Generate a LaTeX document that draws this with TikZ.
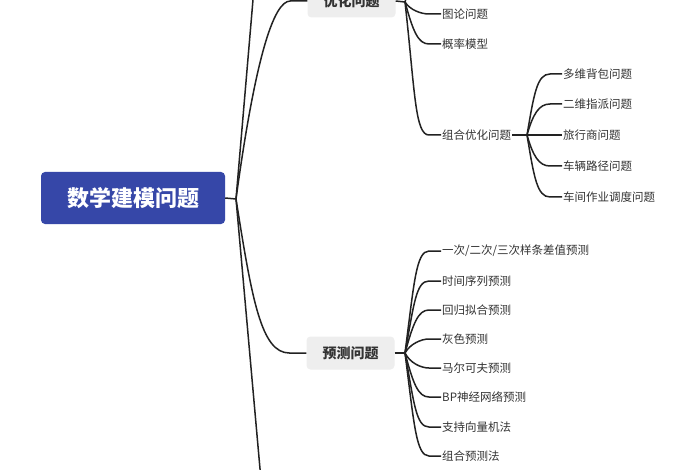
\documentclass[tikz,border=0pt]{standalone}
\usepackage{fontspec}
\setmainfont{Noto Sans CJK SC}
\definecolor{rootblue}{HTML}{3647A8}
\definecolor{boxgray}{HTML}{EEEEEE}
\definecolor{textdark}{HTML}{333333}
\definecolor{linedark}{HTML}{222222}
\begin{document}
\begin{tikzpicture}[x=1pt,y=-1pt,
  conn/.style={draw=linedark, line width=1.5pt},
  rootbox/.style={fill=rootblue, rounded corners=4pt, minimum width=184pt, minimum height=52pt, text=white, font=\fontsize{22}{22}\selectfont\bfseries},
  branchbox/.style={fill=boxgray, rounded corners=4pt, minimum width=88pt, minimum height=33pt, text=textdark, font=\fontsize{14}{14}\selectfont\bfseries},
  leaf/.style={anchor=west, inner sep=1pt, text=textdark, font=\fontsize{11.5}{11.5}\selectfont}]
\useasboundingbox (0,0) rectangle (700,470);
\fill[white] (0,0) rectangle (700,470);
\clip (0,0) rectangle (700,470);

% root and main branches
\node[rootbox] (root) at (133,198) {数学建模问题};
\node[branchbox] (opt) at (351.5,1) {优化问题};
\node[branchbox] (pred) at (350.5,353) {预测问题};
\coordinate (r0) at (236,199);
\coordinate (offtop) at (254,-12);
\coordinate (offbot) at (261,480);

\draw[conn] (root.east) -- (r0);
\draw[conn] (r0) -- (offtop);
\draw[conn] (r0) -- (offbot);
\draw[conn] (r0) .. controls +(19,-139) and +(-17,0) .. ([xshift=-17pt]opt.west) -- (opt.west);
\draw[conn] (r0) .. controls +(16,101) and +(-28,0) .. ([xshift=-17pt]pred.west) -- (pred.west);

% optimisation branch
\coordinate (o0) at (405,2);
\coordinate (ohid) at (440,-30);
\node[leaf] (o1) at (441,14) {图论问题};
\node[leaf] (o2) at (441,44) {概率模型};
\node[leaf] (o3) at (441,135) {组合优化问题};
\draw[conn] (opt.east) -- (o0);
\draw[conn] (o0) .. controls +(6,-22) and +(-10,0) .. ([xshift=-12pt]ohid) -- (ohid);
\draw[conn] (o0) .. controls +(5,8) and +(-8,0) .. ([xshift=-12pt]o1.west) -- (o1.west);
\draw[conn] (o0) .. controls +(8,29) and +(-11,0) .. ([xshift=-12pt]o2.west) -- (o2.west);
\draw[conn] (o0) .. controls +(10,90) and +(-14,0) .. ([xshift=-12pt]o3.west) -- (o3.west);

% combinatorial optimisation
\coordinate (c0) at (527,135);
\node[leaf] (c1) at (562,74) {多维背包问题};
\node[leaf] (c2) at (562,104) {二维指派问题};
\node[leaf] (c3) at (562,135) {旅行商问题};
\node[leaf] (c4) at (562,166) {车辆路径问题};
\node[leaf] (c5) at (562,197) {车间作业调度问题};
\draw[conn] (o3.east) -- (c0);
\draw[conn] (c0) .. controls +(7,-41) and +(-13,0) .. ([xshift=-12pt]c1.west) -- (c1.west);
\draw[conn] (c0) .. controls +(6,-21) and +(-11,0) .. ([xshift=-12pt]c2.west) -- (c2.west);
\draw[conn] (c0) -- (c3.west);
\draw[conn] (c0) .. controls +(6,21) and +(-11,0) .. ([xshift=-12pt]c4.west) -- (c4.west);
\draw[conn] (c0) .. controls +(7,42) and +(-13,0) .. ([xshift=-12pt]c5.west) -- (c5.west);

% prediction branch
\coordinate (p0) at (405,353);
\node[leaf] (p1) at (441,251) {一次/二次/三次样条差值预测};
\node[leaf] (p2) at (441,281) {时间序列预测};
\node[leaf] (p3) at (441,310) {回归拟合预测};
\node[leaf] (p4) at (441,339) {灰色预测};
\node[leaf] (p5) at (441,368) {马尔可夫预测};
\node[leaf] (p6) at (441,397) {BP神经网络预测};
\node[leaf] (p7) at (441,427) {支持向量机法};
\node[leaf] (p8) at (441,456) {组合预测法};
\draw[conn] (pred.east) -- (p0);
\draw[conn] (p0) .. controls +(9,-69) and +(-13,0) .. ([xshift=-12pt]p1.west) -- (p1.west);
\draw[conn] (p0) .. controls +(9,-49) and +(-13,0) .. ([xshift=-12pt]p2.west) -- (p2.west);
\draw[conn] (p0) .. controls +(8,-29) and +(-11,0) .. ([xshift=-12pt]p3.west) -- (p3.west);
\draw[conn] (p0) .. controls +(5,-9) and +(-8,0) .. ([xshift=-12pt]p4.west) -- (p4.west);
\draw[conn] (p0) .. controls +(5,10) and +(-8,0) .. ([xshift=-12pt]p5.west) -- (p5.west);
\draw[conn] (p0) .. controls +(8,30) and +(-11,0) .. ([xshift=-12pt]p6.west) -- (p6.west);
\draw[conn] (p0) .. controls +(9,50) and +(-13,0) .. ([xshift=-12pt]p7.west) -- (p7.west);
\draw[conn] (p0) .. controls +(9,70) and +(-13,0) .. ([xshift=-12pt]p8.west) -- (p8.west);
\end{tikzpicture}
\end{document}
